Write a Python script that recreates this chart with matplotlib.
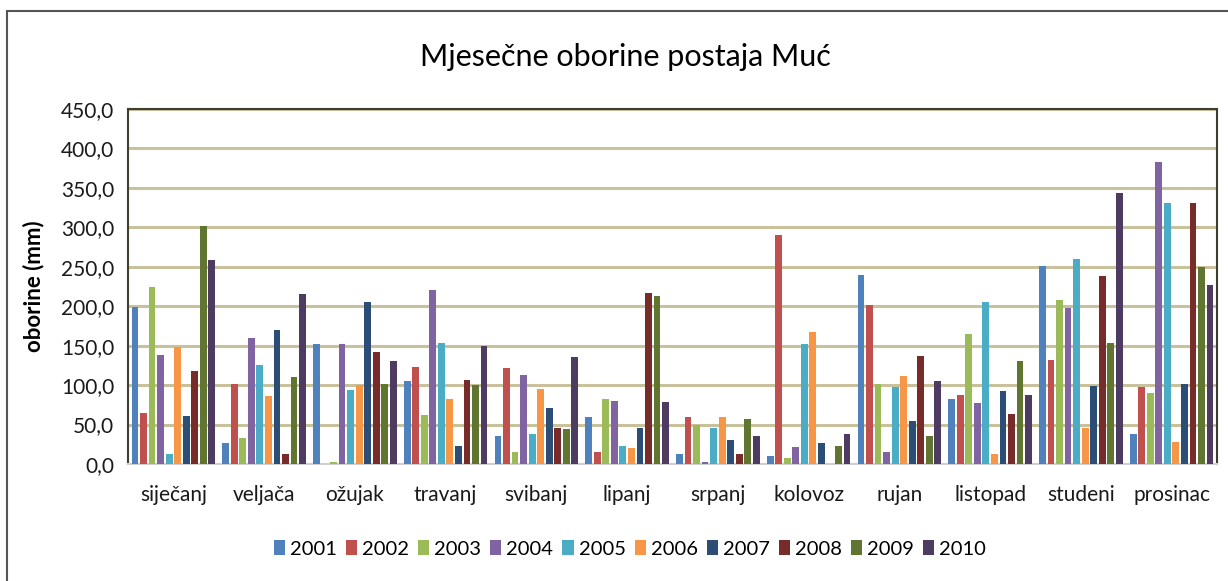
import numpy as np
import matplotlib
matplotlib.use("Agg")
import matplotlib.pyplot as plt
from matplotlib.patches import Rectangle

plt.rcParams['font.family'] = ['Lato', 'DejaVu Sans']

months = ['siječanj', 'veljača', 'ožujak', 'travanj', 'svibanj', 'lipanj',
          'srpanj', 'kolovoz', 'rujan', 'listopad', 'studeni', 'prosinac']
years = ['2001', '2002', '2003', '2004', '2005', '2006', '2007', '2008', '2009', '2010']

# monthly precipitation (mm), one list per year, Jan..Dec
p2001 = [199, 27, 152, 105, 35, 59, 13, 10, 239, 82, 251, 38]
p2002 = [65, 102, 0, 123, 122, 15, 59, 290, 202, 87, 132, 98]
p2003 = [225, 33, 3, 62, 15, 82, 49, 8, 101, 165, 208, 90]
p2004 = [138, 160, 152, 221, 113, 80, 2, 21, 15, 77, 198, 383]
p2005 = [13, 125, 94, 153, 38, 23, 46, 152, 97, 205, 260, 331]
p2006 = [148, 86, 100, 82, 95, 20, 59, 167, 111, 13, 46, 28]
p2007 = [61, 170, 205, 23, 71, 46, 30, 27, 54, 92, 99, 101]
p2008 = [118, 13, 142, 106, 46, 217, 13, 0, 137, 64, 238, 331]
p2009 = [302, 110, 102, 100, 44, 213, 57, 23, 36, 131, 153, 250]
p2010 = [258, 215, 131, 150, 136, 79, 35, 38, 105, 87, 344, 227]

series = [p2001, p2002, p2003, p2004, p2005, p2006, p2007, p2008, p2009, p2010]
colors = ['#4f81bd', '#c0504d', '#9bbb59', '#8064a2', '#4bacc6',
          '#f79646', '#2c4d75', '#772c2a', '#5f7530', '#4d3b62']

fig = plt.figure(figsize=(12.28, 5.81), dpi=100)
ax = fig.add_axes([128 / 1228, 1 - 464 / 581, 1089 / 1228, 355 / 581])

x = np.arange(len(months))
slot = 0.094
for i, (vals, c) in enumerate(zip(series, colors)):
    off = (i - 4.5) * slot
    ax.bar(x + off, vals, width=slot * 0.8, color=c, label=years[i], zorder=3)

ax.set_xlim(-0.5, 11.5)
ax.set_ylim(0, 450)
ax.set_yticks(np.arange(0, 451, 50))
ax.set_yticklabels([f"{v:.1f}".replace('.', ',') for v in np.arange(0, 451, 50)],
                   fontsize=15, color='#1a1a1a')
ax.set_xticks(x)
ax.set_xticklabels(months, fontsize=15, color='#1a1a1a')
ax.tick_params(axis='both', length=0)
ax.tick_params(axis='y', pad=10)
ax.tick_params(axis='x', pad=15)
ax.yaxis.grid(True, color='#c8c19c', linewidth=2.2, zorder=0)
ax.set_axisbelow(True)

for s in ['top', 'right', 'left']:
    ax.spines[s].set_color('#3f3f30')
    ax.spines[s].set_linewidth(1.5)
ax.spines['bottom'].set_color('#d0d0d0')
ax.spines['bottom'].set_linewidth(1.5)

ax.set_ylabel('oborine (mm)', fontsize=16, fontweight='bold', labelpad=12)

fig.text(625 / 1228, 1 - 57 / 581, 'Mjesečne oborine postaja Muć',
         ha='center', va='center', fontsize=22)

fig.legend(loc='center', bbox_to_anchor=(630 / 1228, 1 - 549 / 581), ncol=10,
           frameon=False, fontsize=14.5, handlelength=0.55, handleheight=0.7,
           handletextpad=0.25, columnspacing=0.45)

fig.patches.append(Rectangle((7 / 1228, -0.1), 1.2, 1.1 - 11 / 581,
                             transform=fig.transFigure, fill=False,
                             edgecolor='#555555', linewidth=1.5))

fig.savefig('out.png', dpi=100)
